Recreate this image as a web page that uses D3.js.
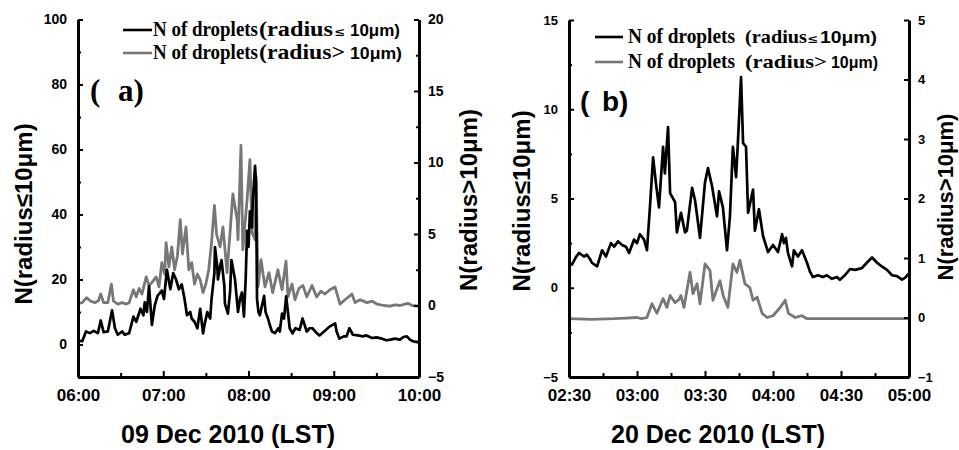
<!DOCTYPE html>
<html>
<head>
<meta charset="utf-8">
<script src="https://cdn.jsdelivr.net/npm/d3@7"></script>
<style>
  body { margin: 0; background: #fff; }
  svg { display: block; }
</style>
</head>
<body>
<svg id="chart" width="959" height="450"></svg>
<script>
// ---------------- DATA ----------------
// Panel (a): 09 Dec 2010, minutes after 06:00
const aSmallTime = [0,3,5.6,8.4,11,14,16,18,21,24,26,28,31,33,36,39,41,44,46,47,48.5,50,52,54,56,59,60.5,62.6,65,67,69,71,73,75,76.7,79,80,82,84,86,88,89,91,93,94,96,96.4,98,98.5,100,101,103,103.4,105.5,107,108,110.5,112.6,114,115.4,116.8,118,119,120,121,122.5,123,124.6,125.3,126,127,128,129.5,131,132,133.7,135,136.5,138.6,141,142,143.6,145,146.5,148,149,151,153,156,158,161,163,165,168,170,174,177,181,182,184,187,189,191,193.5,197,200.5,203,207,210,214,217,220,223,226.6,229,231.5,233.6,235.7,238,240];
const aSmallN    = [1.2,1.0,4,3.5,4.2,3.5,7.4,3.8,4,10.5,5,3,4,3,3.5,8.6,7,11,9,13,10,18,6,12,15,16.6,14,23,17,22,20,17,18.5,14,9,10,8,7,5,11,3.4,6,10,8,14,22,30,24,20,24,26,18,12.6,9.5,16,26,20,10,14,16,8.6,20,35,30,41,36,44,55,50,14,10,9,12,15,10,8,6,4,3.5,5,4,9.5,8,14.8,9,5,3.4,5,4.5,8,4,5,5,3.5,2.8,4.3,5.5,6.5,4,1.8,2.5,2.5,5,3,2.8,2.5,2.8,2,2.2,1.8,1.3,1.5,1.8,1.5,2.3,2.5,1.5,1,0.8,0.6];
const aLargeTime = [0,3,6,9,12,14.5,16,18,21,23.5,25,28,31,34,36,39,41,43,45,48,50,52,55,57,59,61,62,64,66,68,70,72,73.5,76,78,80,82,84,86,88,90,92,94,96,97.5,100,102,104.9,107,109,112,112.6,114.7,116,119,121,122.5,124.6,125.3,126.7,128.8,131.6,134.4,137,140.7,143.6,146.4,147.8,150.6,152.7,155.5,158.3,161,164.7,168,171,173.8,177.3,180.9,184.4,187.9,192.8,195,198.5,203.4,207,210.4,215.3,219.6,223,226.6,230,232.2,235,240];
const aLargeN    = [0.15,0.2,0.55,0.3,0.2,0.35,0.8,0.2,0.2,1.5,0.3,0.1,0.2,0.1,0.2,1.1,0.6,1.2,0.8,2.0,1.4,1.6,2.0,1.3,3.0,2.2,4.4,2.7,4.1,2.5,3.5,6.0,3.6,5.5,2.5,3.0,1.5,2.2,1.8,0.9,1.5,2.5,4.4,7.0,5,4.1,5.5,2.3,5.1,7.8,6.0,4.6,11.2,3.9,7.4,10.2,5.1,4.6,9,1.3,3.2,1.3,2.3,0.9,2.5,1.1,3.1,0.6,1.5,0.4,1.2,1.4,0.6,1.4,0.6,1.0,0.8,1.1,1.3,0.1,0.4,0.8,0.2,0.4,0.2,0.3,0.1,0.0,-0.05,0.05,0.0,0.1,0.15,0.0,-0.05];

// Panel (b): 20 Dec 2010, minutes after 02:30
const bSmallTime = [0,1.3,3,4.4,6.6,7.9,9.3,10.1,12.4,14.6,16.3,18.5,19.9,21.6,23.4,25.1,26.5,28.7,30,31.3,33.1,34.4,35.7,37.1,38.4,39.7,41.5,42.3,43.7,44.6,46.8,47.6,49.4,51.2,52,54.3,55.6,57.8,60,61.3,63.1,65.3,66.2,67.9,69.7,71,72.3,73.7,74.5,75.9,76.8,78.1,79,81.2,82,83.8,85.6,87.8,90,92.2,94,94.8,95.7,96.6,98.4,99.2,101,102.8,105,106.3,107.6,109.8,112,113.8,116,118.2,119.5,121.7,124,126.2,129.2,131.4,133.7,135.9,138,140.3,142.5,144.7,146.9,148.2,150];
const bSmallN    = [1.4,1.3,1.7,1.95,1.75,1.85,1.6,1.4,1.2,2.1,1.75,2.5,2.3,2.6,2.4,2.3,1.95,2.7,2.5,3.0,2.7,2.1,4.5,7.3,5.8,4.5,7.9,6.4,9.0,5.3,4.8,3.1,4.2,3.1,3.2,5.6,4.9,2.8,5.9,6.7,5.7,4.0,5.4,4.5,2.1,4.0,7.9,6.2,8.1,11.8,8.1,7.9,4.2,5.5,3.2,4.4,2.9,2.0,2.4,2.0,3.0,2.5,2.8,1.95,1.2,2.1,1.75,2.1,1.4,0.9,0.6,0.7,0.6,0.7,0.5,0.6,0.45,0.7,1.05,1.0,1.1,1.4,1.7,1.4,1.2,1.0,0.7,0.65,0.45,0.55,0.8];
const bLargeTime = [0,10,20,25,30,32,34.4,36.6,38.8,41.5,43.2,44.6,46.8,48.5,49.4,50.7,53.4,54.7,56.5,57.8,60,62.2,63.5,66.6,68,70.1,72.3,74.1,75.4,77.6,79.8,81.2,83,85.2,87.4,90,93.2,95.4,96.8,99.8,102.8,105,120,150];
const bLargeN    = [-0.02,-0.03,-0.02,-0.01,0.0,-0.02,0.0,0.23,0.07,0.32,0.17,0.37,0.25,0.3,0.37,0.17,0.76,0.4,0.57,0.23,0.9,0.79,0.29,0.62,0.37,0.17,0.9,0.76,0.96,0.57,0.5,0.29,0.34,0.07,0.0,0.03,0.17,0.29,0.07,0.0,0.03,-0.02,-0.02,-0.02];

// Axes / ticks
const aXTickMin = [0,60,120,180,240];
const aXTickLabels = ["06:00","07:00","08:00","09:00","10:00"];
const aXMinor = [30,90,150,210];
const aYLTicks = [0,20,40,60,80,100];
const aYLMinor = [-10,10,30,50,70,90];
const aYRTicks = [-5,0,5,10,15,20];
const aYRMinor = [-2.5,2.5,7.5,12.5,17.5];

const bXTickMin = [0,30,60,90,120,150];
const bXTickLabels = ["02:30","03:00","03:30","04:00","04:30","05:00"];
const bXMinor = [15,45,75,105,135];
const bYLTicks = [-5,0,5,10,15];
const bYLMinor = [-2.5,2.5,7.5,12.5];
const bYRTicks = [-1,0,1,2,3,4,5];

const legendSmall = "N of droplets";
const titles = {
  aX: "09 Dec 2010 (LST)", bX: "20 Dec 2010 (LST)",
  yL: "N(radius\u226410\u03bcm)", yR: "N(radius>10\u03bcm)"
};

// ---------------- DRAW ----------------
const svg = d3.select("#chart");
const GREY = "#777777";
const SANS = "'Liberation Sans', Arial, sans-serif";
const SERIF = "'Liberation Serif', 'Times New Roman', serif";

function styleAxis(g, fs) {
  g.select(".domain").attr("stroke", "#000").attr("stroke-width", 3);
  g.selectAll(".tick line").attr("stroke", "#000").attr("stroke-width", 2);
  g.selectAll(".tick text").attr("font-family", SANS).attr("font-weight", "bold")
    .attr("font-size", fs).attr("fill", "#000");
}

function panel(cfg) {
  const x = d3.scaleLinear().domain(cfg.xDomain).range(cfg.xRange);
  const yL = d3.scaleLinear().domain(cfg.yLDomain).range(cfg.yRange);
  const yR = d3.scaleLinear().domain(cfg.yRDomain).range(cfg.yRange);
  const g = svg.append("g");

  // lines
  const lineL = d3.line().x((d) => x(d[0])).y((d) => yL(d[1]));
  const lineR = d3.line().x((d) => x(d[0])).y((d) => yR(d[1]));
  g.append("path").datum(d3.zip(cfg.largeT, cfg.largeN)).attr("d", lineR)
    .attr("fill", "none").attr("stroke", GREY).attr("stroke-width", 2.8).attr("stroke-linejoin", "round");
  g.append("path").datum(d3.zip(cfg.smallT, cfg.smallN)).attr("d", lineL)
    .attr("fill", "none").attr("stroke", "#000").attr("stroke-width", 2.7).attr("stroke-linejoin", "round");

  // bottom axis
  const bx = g.append("g").attr("transform", `translate(0,${cfg.yRange[0]})`)
    .call(d3.axisBottom(x).tickValues(cfg.xTicks).tickFormat((d, i) => cfg.xLabels[i])
      .tickSizeInner(-6).tickSizeOuter(0).tickPadding(12));
  styleAxis(bx, cfg.xFs);
  g.append("g").attr("transform", `translate(0,${cfg.yRange[0]})`)
    .call(d3.axisBottom(x).tickValues(cfg.xMinor).tickFormat("").tickSizeInner(-4).tickSizeOuter(0))
    .call((s) => { s.select(".domain").remove(); s.selectAll("line").attr("stroke", "#000").attr("stroke-width", 2); });

  // left axis
  const ly = g.append("g").attr("transform", `translate(${cfg.xRange[0]},0)`)
    .call(d3.axisLeft(yL).tickValues(cfg.yLTicks).tickFormat(d3.format("d"))
      .tickSizeInner(-5).tickSizeOuter(0).tickPadding(11));
  styleAxis(ly, cfg.yFs);
  g.append("g").attr("transform", `translate(${cfg.xRange[0]},0)`)
    .call(d3.axisLeft(yL).tickValues(cfg.yLMinor).tickFormat("").tickSizeInner(-3).tickSizeOuter(0))
    .call((s) => { s.select(".domain").remove(); s.selectAll("line").attr("stroke", "#000").attr("stroke-width", 2); });

  // right axis
  const ry = g.append("g").attr("transform", `translate(${cfg.xRange[1]},0)`)
    .call(d3.axisRight(yR).tickValues(cfg.yRTicks).tickFormat(d3.format("d"))
      .tickSizeInner(-5).tickSizeOuter(0).tickPadding(9));
  styleAxis(ry, cfg.yFs);
  if (cfg.yRMinor) {
    g.append("g").attr("transform", `translate(${cfg.xRange[1]},0)`)
      .call(d3.axisRight(yR).tickValues(cfg.yRMinor).tickFormat("").tickSizeInner(-3).tickSizeOuter(0))
      .call((s) => { s.select(".domain").remove(); s.selectAll("line").attr("stroke", "#000").attr("stroke-width", 2); });
  }

  // axis titles
  const t = (txt, px, py, rot, fs) => g.append("text").text(txt)
    .attr("transform", `translate(${px},${py}) rotate(${rot})`)
    .attr("text-anchor", "middle").attr("font-family", SANS).attr("font-weight", "bold")
    .attr("font-size", fs).attr("fill", "#000");
  t(cfg.xTitle, cfg.xTitlePos[0], cfg.xTitlePos[1], 0, 25);
  t(titles.yL, cfg.yLTitlePos[0], cfg.yLTitlePos[1], -90, 24);
  t(titles.yR, cfg.yRTitlePos[0], cfg.yRTitlePos[1], -90, cfg.yRFs);

  // panel letter
  g.append("text").text("(").attr("x", cfg.letterPos[0]).attr("y", cfg.letterPos[1])
    .attr("font-family", cfg.letterFont).attr("font-weight", "bold").attr("font-size", cfg.letterFs);
  g.append("text").text(cfg.letter + ")").attr("x", cfg.letterPos[2]).attr("y", cfg.letterPos[1])
    .attr("font-family", cfg.letterFont).attr("font-weight", "bold").attr("font-size", cfg.letterFs);

  // legend
  cfg.legend.forEach((row) => {
    g.append("line").attr("x1", row.lx[0]).attr("x2", row.lx[1])
      .attr("y1", row.y - 6).attr("y2", row.y - 6)
      .attr("stroke", row.color).attr("stroke-width", 2.6);
    row.parts.forEach((p) => {
      g.append("text").text(p.t).attr("x", p.x).attr("y", row.y)
        .attr("font-family", p.serif ? SERIF : SANS).attr("font-weight", "bold")
        .attr("font-size", p.fs).attr("textLength", p.w).attr("lengthAdjust", "spacingAndGlyphs")
        .attr("fill", "#000");
    });
  });
}

panel({
  xDomain: [0, 240], xRange: [78, 419], yRange: [377, 19.5],
  yLDomain: [-10, 100], yRDomain: [-5, 20],
  smallT: aSmallTime, smallN: aSmallN, largeT: aLargeTime, largeN: aLargeN,
  xTicks: aXTickMin, xLabels: aXTickLabels, xMinor: aXMinor,
  yLTicks: aYLTicks, yLMinor: aYLMinor, yRTicks: aYRTicks, yRMinor: aYRMinor,
  xFs: 17, yFs: 14,
  xTitle: titles.aX, xTitlePos: [228, 443],
  yLTitlePos: [32, 214], yRTitlePos: [477, 200], yRFs: 24,
  letter: "a", letterPos: [90, 101, 118], letterFont: SERIF, letterFs: 31,
  legend: [
    { y: 36, color: "#000", lx: [123, 152], parts: [
      { t: legendSmall, x: 153, w: 105, fs: 20, serif: true },
      { t: "(radius", x: 259, w: 74, fs: 20, serif: true },
      { t: "\u2264", x: 335, w: 9, fs: 11, serif: false },
      { t: "10\u03bcm)", x: 350, w: 50, fs: 17, serif: false } ] },
    { y: 59, color: GREY, lx: [123, 152], parts: [
      { t: legendSmall, x: 153, w: 105, fs: 20, serif: true },
      { t: "(radius>", x: 259, w: 86, fs: 20, serif: true },
      { t: "10\u03bcm)", x: 350, w: 52, fs: 17, serif: false } ] }
  ]
});

panel({
  xDomain: [0, 150], xRange: [569, 909], yRange: [377, 20],
  yLDomain: [-5, 15], yRDomain: [-1, 5],
  smallT: bSmallTime, smallN: bSmallN, largeT: bLargeTime, largeN: bLargeN,
  xTicks: bXTickMin, xLabels: bXTickLabels, xMinor: bXMinor,
  yLTicks: bYLTicks, yLMinor: bYLMinor, yRTicks: bYRTicks, yRMinor: null,
  xFs: 17, yFs: 13,
  xTitle: titles.bX, xTitlePos: [718, 443],
  yLTitlePos: [530, 201], yRTitlePos: [953, 197], yRFs: 22,
  letter: "b", letterPos: [580, 111, 602], letterFont: SANS, letterFs: 28,
  legend: [
    { y: 43, color: "#000", lx: [595, 623], parts: [
      { t: legendSmall, x: 628, w: 107, fs: 20, serif: true },
      { t: "(radius", x: 745, w: 62, fs: 19, serif: true },
      { t: "\u2264", x: 808, w: 9, fs: 11, serif: false },
      { t: "10\u03bcm)", x: 820, w: 57, fs: 17, serif: false } ] },
    { y: 68, color: GREY, lx: [595, 623], parts: [
      { t: legendSmall, x: 628, w: 107, fs: 20, serif: true },
      { t: "(radius>", x: 745, w: 82, fs: 19, serif: true },
      { t: "10\u03bcm)", x: 831, w: 47, fs: 17, serif: false } ] }
  ]
});
</script>
</body>
</html>
